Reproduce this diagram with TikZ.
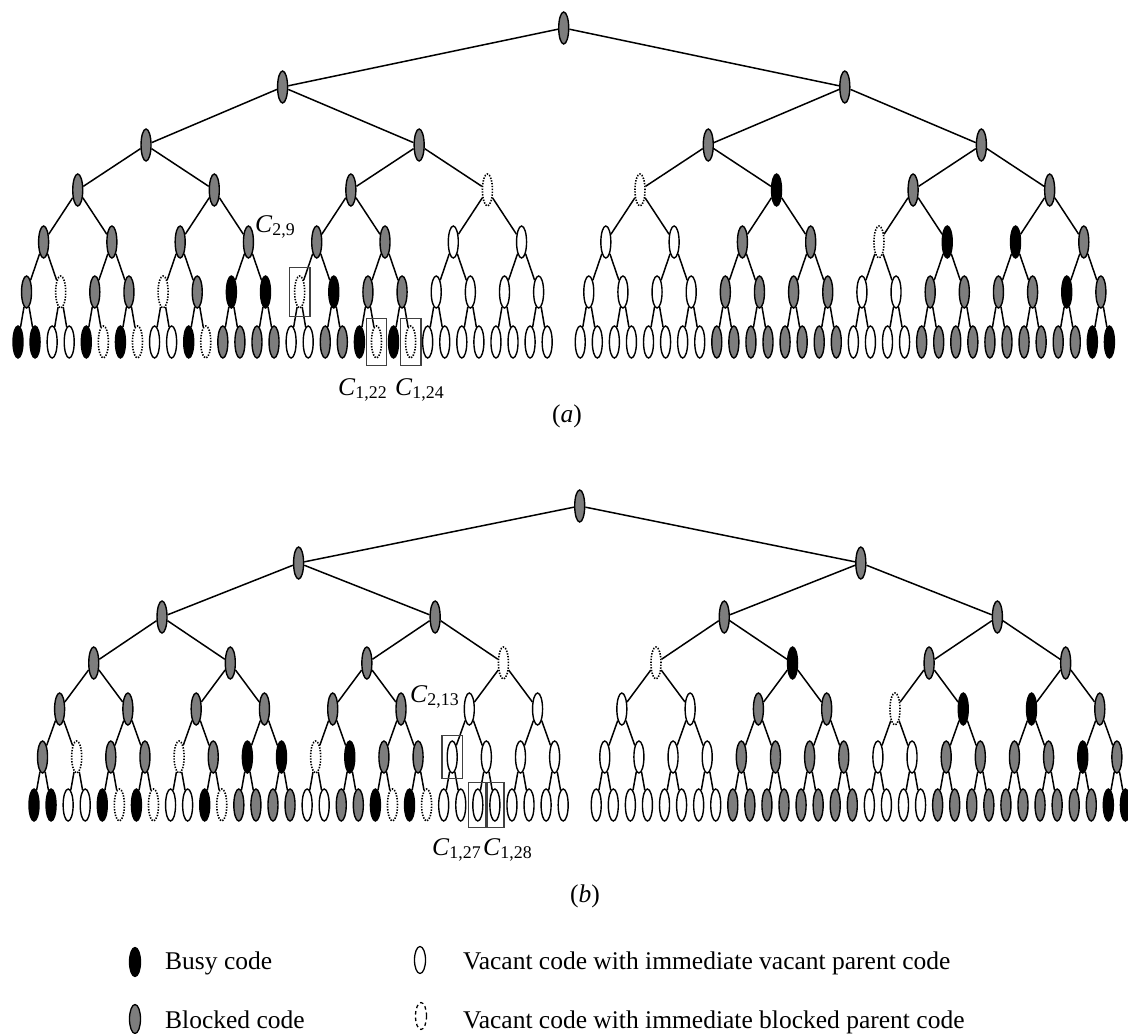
\documentclass[tikz,border=0pt]{standalone}
\usepackage{fontspec}
\setmainfont{Liberation Serif}
\usetikzlibrary{shapes.geometric,fit}

\definecolor{blockgray}{HTML}{7D7D7D}

% code states per level, left to right (K busy, B blocked, V vacant, D vacant under blocked parent)
\newcommand\stSeven{B}
\newcommand\stSix{B,B}
\newcommand\stFive{B,B,B,B}
\newcommand\stFour{B,B,B,D,D,K,B,B}
\newcommand\stThree{B,B,B,B,B,B,V,V,V,V,B,B,D,K,K,B}
\newcommand\stTwo{B,D,B,B,D,B,K,K,D,K,B,B,V,V,V,V,V,V,V,V,B,B,B,B,V,V,B,B,B,B,K,B}
\newcommand\stOne{K,K,V,V,K,D,K,D,V,V,K,D,B,B,B,B,V,V,B,B,K,D,K,D,V,V,V,V,V,V,V,V,V,V,V,V,V,V,V,V,B,B,B,B,B,B,B,B,V,V,V,V,B,B,B,B,B,B,B,B,B,B,K,K}

\tikzset{
  code/.style={ellipse, inner sep=0pt, minimum width=10pt, minimum height=32pt,
               line width=1.4pt, draw=black},
  codeK/.style={code, fill=black},
  codeB/.style={code, fill=blockgray},
  codeV/.style={code, fill=white},
  codeD/.style={code, fill=white, line width=1.6pt, dash pattern=on 1.4pt off 1.4pt},
  keycode/.style={ellipse, inner sep=0pt, minimum width=11pt, minimum height=27pt,
                  line width=1.3pt, draw=black},
  branch/.style={line width=1.5pt, draw=black},
  pick/.style={rectangle, draw=black!75, line width=1.2pt, inner sep=0pt},
  lbl/.style={font=\fontsize{25.5}{30}\selectfont, inner sep=0pt},
}

\newcommand\cname[1]{\textit{C}\textsubscript{#1}}

% one level of a code tree: prefix, level, x shift, y, state list macro
\newcommand\codelevel[5]{%
  \foreach \s [count=\j from 0] in #5 {%
    \pgfmathsetmacro\mid{\j*pow(2,#2-1)+(pow(2,#2-1)-1)/2}%
    \pgfmathsetmacro\xx{#3+18+\mid*17.07+(\mid>31.6?16:(\mid>31.4?8:0))}%
    \node[code\s] (#1#2-\j) at (\xx,#4) {};%
  }%
}

% branches from every code to its two children
\newcommand\codeedges[1]{%
  \foreach \L in {2,...,7} {%
    \pgfmathtruncatemacro\n{pow(2,7-\L)-1}%
    \pgfmathtruncatemacro\Lc{\L-1}%
    \foreach \j in {0,...,\n} {%
      \pgfmathtruncatemacro\ca{2*\j}%
      \pgfmathtruncatemacro\cb{2*\j+1}%
      \draw[branch] (#1\L-\j) -- (#1\Lc-\ca) (#1\L-\j) -- (#1\Lc-\cb);%
    }%
  }%
}

\begin{document}
\begin{tikzpicture}[x=1pt,y=-1pt]
\useasboundingbox (0,0) rectangle (1128,1034);

% ---- tree (a) ----
\codelevel{a}{7}{0}{28}{\stSeven}
\codelevel{a}{6}{0}{87}{\stSix}
\codelevel{a}{5}{0}{145}{\stFive}
\codelevel{a}{4}{0}{190}{\stFour}
\codelevel{a}{3}{0}{242}{\stThree}
\codelevel{a}{2}{0}{292}{\stTwo}
\codelevel{a}{1}{0}{342}{\stOne}
\codeedges{a}

\node[pick, fit=(a2-8), inner xsep=4.5pt, inner ysep=7.5pt] (boxA) {};
\node[pick, fit=(a1-21), inner xsep=4.5pt, inner ysep=6.5pt] (boxB) {};
\node[pick, fit=(a1-23), inner xsep=4.5pt, inner ysep=6.5pt] (boxC) {};

\node[lbl, anchor=base west] (labA) at (255,232) {\cname{2,9}};
\node[lbl, anchor=base west] (labB) at (338,395) {\cname{1,22}};
\node[lbl, anchor=base west] (labC) at (395,395) {\cname{1,24}};
\node[lbl] (capA) at (567,416) {(\textit{a})};

% ---- tree (b) ----
\codelevel{b}{7}{16}{506}{\stSeven}
\codelevel{b}{6}{16}{563}{\stSix}
\codelevel{b}{5}{16}{617}{\stFive}
\codelevel{b}{4}{16}{663}{\stFour}
\codelevel{b}{3}{16}{709}{\stThree}
\codelevel{b}{2}{16}{757}{\stTwo}
\codelevel{b}{1}{16}{805}{\stOne}
\codeedges{b}

\node[pick, fit=(b2-12), inner xsep=4.5pt, inner ysep=5pt] (boxD) {};
\node[pick, fit=(b1-26), inner xsep=3.5pt, inner ysep=6pt] (boxE) {};
\node[pick, fit=(b1-27), inner xsep=3.5pt, inner ysep=6pt] (boxF) {};

\node[lbl, anchor=base west] (labD) at (410,702) {\cname{2,13}};
\node[lbl, anchor=base west] (labE) at (432,855) {\cname{1,27}};
\node[lbl, anchor=base west] (labF) at (483,855) {\cname{1,28}};
\node[lbl] (capB) at (585,896) {(\textit{b})};

% ---- legend ----
\node[keycode, fill=black, minimum height=29pt] (keyK) at (135,962) {};
\node[keycode, fill=blockgray, minimum height=29pt] (keyB) at (135,1019) {};
\node[keycode, fill=white] (keyV) at (420,960) {};
\node[keycode, fill=white, dash pattern=on 3.5pt off 3pt] (keyD) at (421,1016) {};
\node[lbl, anchor=base west] (txtK) at (165,969) {Busy code};
\node[lbl, anchor=base west] (txtB) at (165,1028) {Blocked code};
\node[lbl, anchor=base west] (txtV) at (463,969) {Vacant code with immediate vacant parent code};
\node[lbl, anchor=base west] (txtD) at (463,1028) {Vacant code with immediate blocked parent code};
\end{tikzpicture}
\end{document}
